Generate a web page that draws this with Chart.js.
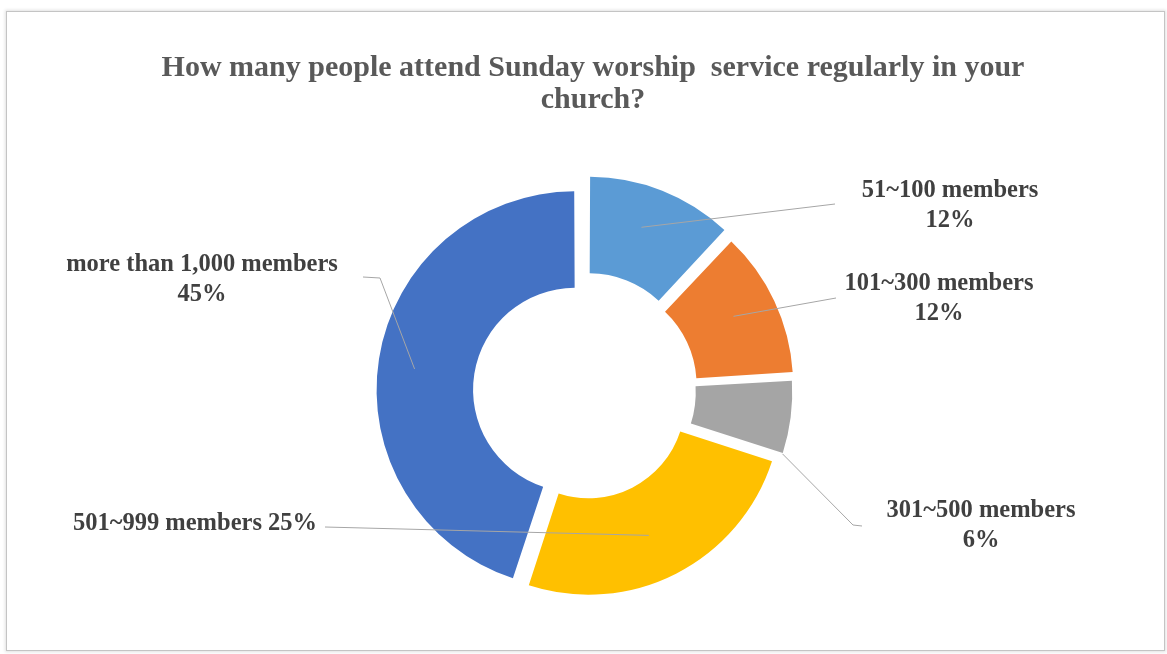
<!DOCTYPE html>
<html>
<head>
<meta charset="utf-8">
<title>Sunday worship attendance</title>
<script src="https://cdn.jsdelivr.net/npm/chart.js@4.4.0/dist/chart.umd.min.js"></script>
<style>
  html, body { margin: 0; padding: 0; background: #fff; }
  #frame {
    position: absolute; left: 6px; top: 11px; width: 1157px; height: 638px;
    border: 1px solid #c4c4c4;
    box-shadow: 0 0 3px 1px rgba(0, 0, 0, 0.12);
  }
  #donut { position: absolute; left: 0; top: 0; }
</style>
</head>
<body>
<div id="frame"></div>
<canvas id="donut" width="1167" height="654"></canvas>
<script>
// survey answers, clockwise from 12 o'clock
const groups = ['51~100 members', '101~300 members', '301~500 members', '501~999 members', 'more than 1,000 members'];
const shares = [12, 12, 6, 25, 45];
const titleLines = ['How many people attend Sunday worship  service regularly in your', 'church?'];

// how far each slice is pulled out, in px (chart.js moves an arc by offset / 4)
const pullOut = [17, 14, 10, 12, 8];

// where the leader line leaves the slice (fraction of sweep, fraction of ring)
// then the bend points and text spot, relative to the doughnut centre
const callouts = [
    { at: [0.45, 0.57], bend: [[252, -187]], text: [367, -200], twoLines: true },
    { at: [0.47, 0.55], bend: [[253, -93]], text: [356, -107], twoLines: true },
    { at: [1.0, 1.0], bend: [[270, 134], [279, 135]], text: [398, 120], twoLines: true },
    { at: [0.53, 0.52], bend: [[-258, 136]], text: [-388, 133], twoLines: false },
    { at: [0.49, 0.62], bend: [[-203, -113], [-220, -114]], text: [-381, -126], twoLines: true }
];

// point inside an exploded arc, drawn the way ArcElement.draw places it
function slicePoint(arc, frac, ring) {
    const p = arc.getProps(['x', 'y', 'startAngle', 'endAngle', 'innerRadius', 'outerRadius']);
    const push = (arc.options.offset || 0) / 4;
    const fix = 1 - Math.sin(Math.min(Math.PI, p.endAngle - p.startAngle));
    const mid = (p.startAngle + p.endAngle) / 2;
    const cx = p.x + Math.cos(mid) * push;
    const cy = p.y + Math.sin(mid) * push;
    const a = p.startAngle + (p.endAngle - p.startAngle) * frac;
    const r0 = p.innerRadius + push * fix;
    const r1 = p.outerRadius + push * fix;
    const r = r0 + (r1 - r0) * ring;
    return [cx + Math.cos(a) * r, cy + Math.sin(a) * r];
}

const calloutPlugin = {
    id: 'callouts',
    afterDraw(chart) {
        const ctx = chart.ctx;
        const arcs = chart.getDatasetMeta(0).data;
        const ox = arcs[0].x;
        const oy = arcs[0].y;

        ctx.save();
        // title
        ctx.fillStyle = '#595959';
        ctx.font = 'bold 30px "Liberation Serif"';
        ctx.textAlign = 'center';
        ctx.textBaseline = 'middle';
        titleLines.forEach((t, i) => ctx.fillText(t, 593, 68 + i * 32));

        // leader lines
        ctx.strokeStyle = '#a6a6a6';
        ctx.lineWidth = 1;
        callouts.forEach((c, i) => {
            const start = slicePoint(arcs[i], c.at[0], c.at[1]);
            ctx.beginPath();
            ctx.moveTo(start[0], start[1]);
            c.bend.forEach(b => ctx.lineTo(ox + b[0], oy + b[1]));
            ctx.stroke();
        });

        // label text
        ctx.fillStyle = '#404040';
        ctx.font = 'bold 24.5px "Liberation Serif"';
        callouts.forEach((c, i) => {
            const pct = shares[i] + '%';
            const x = ox + c.text[0];
            const y = oy + c.text[1];
            if (c.twoLines) {
                ctx.fillText(groups[i], x, y);
                ctx.fillText(pct, x, y + 30);
            } else {
                ctx.fillText(groups[i] + ' ' + pct, x, y);
            }
        });
        ctx.restore();
    }
};

new Chart(document.getElementById('donut'), {
    type: 'doughnut',
    data: {
        labels: groups,
        datasets: [{
            data: shares,
            backgroundColor: ['#5B9BD5', '#ED7D31', '#A5A5A5', '#FFC000', '#4472C4'],
            borderWidth: 0,
            offset: pullOut.map(p => p * 4)
        }]
    },
    options: {
        responsive: false,
        animation: false,
        events: [],
        radius: 193,
        cutout: '50%',
        layout: { padding: { top: 130, bottom: 2, left: 0, right: 1 } },
        plugins: {
            legend: { display: false },
            tooltip: { enabled: false },
            title: { display: false }
        }
    },
    plugins: [calloutPlugin]
});
</script>
</body>
</html>
